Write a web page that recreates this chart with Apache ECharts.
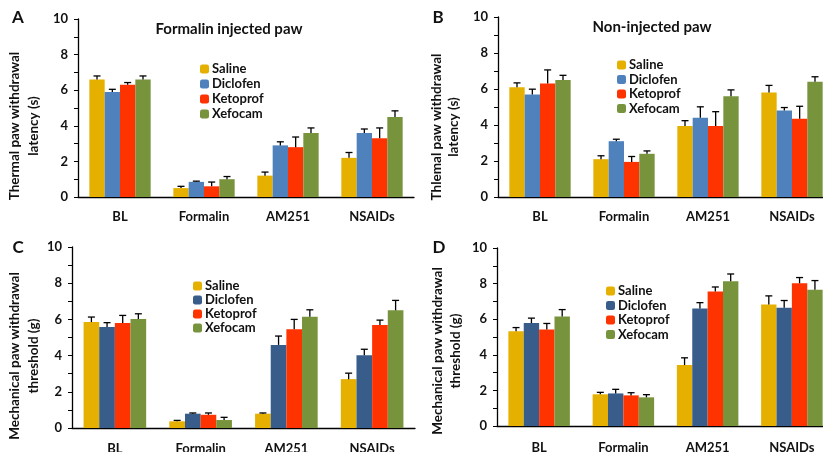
<!DOCTYPE html>
<html>
<head>
<meta charset="utf-8">
<script src="https://cdn.jsdelivr.net/npm/echarts@6/dist/echarts.min.js"></script>
<style>
  html, body { margin: 0; padding: 0; background: #fff; }
  #chart { width: 823px; height: 452px; }
</style>
</head>
<body>
<div id="chart"></div>
<script>
const categories = ['BL', 'Formalin', 'AM251', 'NSAIDs'];
const groups = ['Saline', 'Diclofen', 'Ketoprof', 'Xefocam'];
const yTicks = [0, 2, 4, 6, 8, 10];

// A - thermal, formalin injected paw (rows follow groups)
const aMeans = [
    [6.6, 0.5, 1.2, 2.2],
    [5.9, 0.85, 2.9, 3.6],
    [6.3, 0.6, 2.8, 3.3],
    [6.6, 1.0, 3.6, 4.5]
];
const aErrs = [
    [0.2, 0.1, 0.2, 0.3],
    [0.15, 0.04, 0.2, 0.22],
    [0.13, 0.24, 0.57, 0.58],
    [0.2, 0.15, 0.28, 0.34]
];

// B - thermal, non-injected paw
const bMeans = [
    [6.1, 2.1, 3.95, 5.8],
    [5.7, 3.1, 4.4, 4.8],
    [6.3, 1.95, 3.95, 4.35],
    [6.5, 2.4, 5.6, 6.4]
];
const bErrs = [
    [0.24, 0.19, 0.29, 0.4],
    [0.29, 0.11, 0.61, 0.17],
    [0.76, 0.3, 0.79, 0.69],
    [0.26, 0.16, 0.35, 0.28]
];

// C - mechanical, formalin injected paw
const cMeans = [
    [5.85, 0.37, 0.79, 2.7],
    [5.58, 0.79, 4.59, 4.02],
    [5.8, 0.73, 5.45, 5.69],
    [6.02, 0.44, 6.15, 6.5]
];
const cErrs = [
    [0.28, 0.05, 0.04, 0.33],
    [0.24, 0.04, 0.49, 0.33],
    [0.42, 0.1, 0.55, 0.27],
    [0.29, 0.15, 0.38, 0.55]
];

// D - mechanical, non-injected paw
const dMeans = [
    [5.33, 1.78, 3.42, 6.82],
    [5.78, 1.83, 6.6, 6.65],
    [5.42, 1.72, 7.55, 8.02],
    [6.15, 1.61, 8.13, 7.66]
];
const dErrs = [
    [0.2, 0.11, 0.41, 0.49],
    [0.28, 0.23, 0.33, 0.4],
    [0.34, 0.15, 0.26, 0.32],
    [0.39, 0.15, 0.41, 0.51]
];

const colorsTop = ['#e6b000', '#4f81bd', '#ff3300', '#77933c'];
const colorsBottom = ['#e6b000', '#385d8a', '#ff3300', '#77933c'];

const FONT = 'Lato, "Open Sans", sans-serif';
const GAP = 0.27;

const panels = [
    { id: 'A', means: aMeans, errs: aErrs, colors: colorsTop, labelMargin: 13,
      grid: { left: 78, top: 19, width: 336, height: 178 },
      legend: { left: 195, top: 57, itemGap: 1 } },
    { id: 'B', means: bMeans, errs: bErrs, colors: colorsTop, labelMargin: 13,
      grid: { left: 498, top: 17, width: 336, height: 180 },
      legend: { left: 612, top: 53, itemGap: 0.5 } },
    { id: 'C', means: cMeans, errs: cErrs, colors: colorsBottom, labelMargin: 14,
      grid: { left: 72, top: 247, width: 343, height: 181 },
      legend: { left: 188, top: 274, itemGap: 0 } },
    { id: 'D', means: dMeans, errs: dErrs, colors: colorsBottom, labelMargin: 15,
      grid: { left: 497, top: 248, width: 337, height: 178 },
      legend: { left: 601, top: 279, itemGap: 0.5 } }
];

const grid = [], xAxis = [], yAxis = [], series = [], legend = [];

panels.forEach((p, gi) => {
    grid.push(Object.assign({ outerBoundsMode: 'none', containLabel: false }, p.grid));
    xAxis.push({
        type: 'category', gridIndex: gi, data: categories,
        axisLine: { lineStyle: { color: '#000', width: 1.3 } },
        axisTick: { inside: true, length: 4, lineStyle: { color: '#000' } },
        axisLabel: { margin: p.labelMargin, color: '#111', fontFamily: FONT, fontWeight: 'bold', fontSize: 13 }
    });
    yAxis.push({
        type: 'value', gridIndex: gi, min: 0, max: 10, interval: 1,
        axisLine: { show: true, lineStyle: { color: '#000', width: 1.3 } },
        axisTick: { show: true, length: 4, lineStyle: { color: '#000' } },
        splitLine: { show: false },
        axisLabel: {
            margin: 10, color: '#111', fontFamily: FONT, fontWeight: 'bold', fontSize: 13,
            formatter: v => (yTicks.indexOf(v) >= 0 ? String(v) : '')
        }
    });
    const names = [];
    groups.forEach((g, si) => {
        const name = p.id + ':' + g;
        names.push(name);
        series.push({
            type: 'bar', name: name, xAxisIndex: gi, yAxisIndex: gi,
            data: p.means[si], barGap: '0%', barCategoryGap: (GAP * 100) + '%',
            itemStyle: { color: p.colors[si] }
        });
    });
    const errData = [];
    categories.forEach((c, ci) => {
        groups.forEach((g, si) => {
            errData.push([ci, si, p.means[si][ci], p.errs[si][ci]]);
        });
    });
    series.push({
        type: 'custom', xAxisIndex: gi, yAxisIndex: gi, data: errData, z: 5,
        encode: { x: 0, y: 2 },
        renderItem: (params, api) => {
            const ci = api.value(0), si = api.value(1);
            const mean = api.value(2), top = mean + api.value(3);
            const base = api.coord([ci, mean]);
            const tip = api.coord([ci, top]);
            const cw = api.size([1, 0])[0];
            const gw = cw * (1 - GAP);
            const bw = gw / groups.length;
            const x = base[0] - gw / 2 + (si + 0.5) * bw;
            const st = { stroke: '#000', lineWidth: 1.3 };
            return {
                type: 'group',
                children: [
                    { type: 'line', shape: { x1: x, y1: base[1], x2: x, y2: tip[1] }, style: st },
                    { type: 'line', shape: { x1: x - 3.5, y1: tip[1], x2: x + 3.5, y2: tip[1] }, style: st }
                ]
            };
        }
    });
    legend.push({
        left: p.legend.left, top: p.legend.top, orient: 'vertical',
        itemWidth: 9, itemHeight: 9, itemGap: p.legend.itemGap,
        data: names, selectedMode: false,
        formatter: n => n.split(':')[1],
        textStyle: { fontFamily: FONT, fontWeight: 'bold', fontSize: 13, color: '#111', lineHeight: 14, padding: [0, 0, 0, -2] }
    });
});

function vText(x, y, text) {
    return {
        type: 'text', x: x, y: y, rotation: Math.PI / 2,
        style: { text: text, font: 'bold 13.5px ' + FONT, fill: '#111', textAlign: 'center', textVerticalAlign: 'middle' }
    };
}
function plain(x, y, text, size, align) {
    return {
        type: 'text', x: x, y: y,
        style: { text: text, font: 'bold ' + size + 'px ' + FONT, fill: '#111', textAlign: align || 'center', textVerticalAlign: 'middle' }
    };
}

const graphic = [
    plain(18, 18, 'A', 17), plain(438, 18, 'B', 17), plain(18, 248, 'C', 17), plain(439, 248, 'D', 17),
    plain(229, 29, 'Formalin injected paw', 15), plain(652, 27, 'Non-injected paw', 15),
    vText(15, 126, 'Thermal paw withdrawal'), vText(34, 126, 'latency (s)'),
    vText(437, 127, 'Thlemal paw withdrawal'), vText(454, 127, 'latency (s)'),
    vText(15, 356, 'Mechanical paw withdrawal'), vText(34, 356, 'threshold (g)'),
    vText(438, 351, 'Mechanical paw withdrawal'), vText(456, 351, 'threshold (g)')
];

const chart = echarts.init(document.getElementById('chart'));
chart.setOption({
    animation: false,
    backgroundColor: '#fff',
    grid: grid, xAxis: xAxis, yAxis: yAxis, legend: legend, series: series, graphic: graphic
});
</script>
</body>
</html>
